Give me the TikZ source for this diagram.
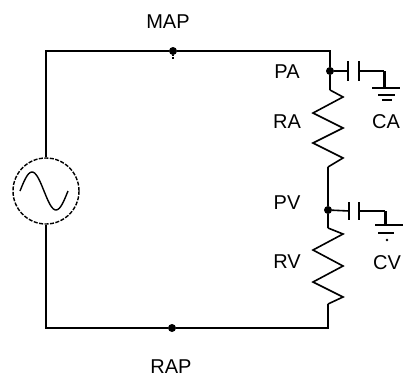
\documentclass[tikz,border=0pt]{standalone}
\usepackage{fontspec}
\setmainfont{Liberation Sans}
\begin{document}
\begin{tikzpicture}[x=1pt,y=-1pt,
  wire/.style={line width=1.6pt},
  thickstem/.style={line width=3pt},
  dotnode/.style={circle,fill,inner sep=0pt,minimum size=8pt},
  lbl/.style={font=\fontsize{20}{24}\selectfont,inner sep=0pt}]
\useasboundingbox (0,0) rectangle (403,383);
% source
\node[circle,draw,line width=1.4pt,dash pattern=on 4pt off 1.5pt,minimum size=66pt,inner sep=0pt] (src) at (46,191) {};
\draw[line width=1.4pt] plot[smooth,domain=0:360,samples=40] ({20+\x/360*48},{191-19*sin(\x)});
% coordinates
\coordinate (tl) at (46,51);
\coordinate (tr) at (330,51);
\coordinate (bl) at (46,328);
\coordinate (br) at (328,328);
\node[dotnode] (map) at (173,51) {};
\node[dotnode] (rap) at (172,328) {};
\node[dotnode] (pa) at (330,71) {};
\node[dotnode] (pv) at (328,210) {};
\coordinate (ra1) at (330,90);
\coordinate (ra2) at (328,167);
\coordinate (rv1) at (328,228);
\coordinate (rv2) at (328,304);
% loop wires
\draw[wire] (src.north) -- (tl) -- (map) -- (tr) -- (pa) -- (ra1);
\draw[wire] (ra2) -- (pv) -- (rv1);
\draw[wire] (rv2) -- (br) -- (rap) -- (bl) -- (src.south);
\draw[densely dotted,line width=1.2pt] (map) -- ++(0,8);
% resistors
\draw[wire] (ra1) -- (343,97) -- (313,113) -- (343,128) -- (313,143) -- (343,158) -- (ra2);
\draw[wire] (rv1) -- (343,234) -- (313,250) -- (343,266) -- (313,282) -- (343,297) -- (rv2);
% capacitor CA
\coordinate (ca1) at (348,71);
\coordinate (ca2) at (359,71);
\coordinate (cag) at (384,71);
\coordinate (cagnd) at (384,88);
\draw[wire] (pa) -- (ca1);
\draw[wire] (ca1) ++(0,-10) -- ++(0,20);
\draw[wire] (ca2) ++(0,-10) -- ++(0,20);
\draw[wire] (ca2) -- (cag);
\draw[thickstem] (cag) -- (cagnd);
\draw[wire] (372,88) -- (400,88);
\draw[wire] (378,95) -- (395,95);
\draw[wire] (382,100) -- (392,100);
% capacitor CV
\coordinate (cv1) at (349,211);
\coordinate (cv2) at (359,211);
\coordinate (cvg) at (385,211);
\coordinate (cvgnd) at (385,225);
\draw[wire] (pv) -- (cv1);
\draw[wire] (cv1) ++(0,-9) -- ++(0,18);
\draw[wire] (cv2) ++(0,-9) -- ++(0,18);
\draw[wire] (cv2) -- (cvg);
\draw[thickstem] (cvg) -- (cvgnd);
\draw[wire] (375,225) -- (403,225);
\draw[wire] (378,233) -- (394,233);
\fill (387,240) circle (1.3pt);
% labels
\node[lbl] (lmap) at (168,22) {MAP};
\node[lbl] (lrap) at (171,367) {RAP};
\node[lbl] (lpa) at (287,72) {PA};
\node[lbl] (lra) at (287,122) {RA};
\node[lbl] (lpv) at (287,203) {PV};
\node[lbl] (lrv) at (287,262) {RV};
\node[lbl] (lca) at (386,122) {CA};
\node[lbl] (lcv) at (387,263) {CV};
\end{tikzpicture}
\end{document}
